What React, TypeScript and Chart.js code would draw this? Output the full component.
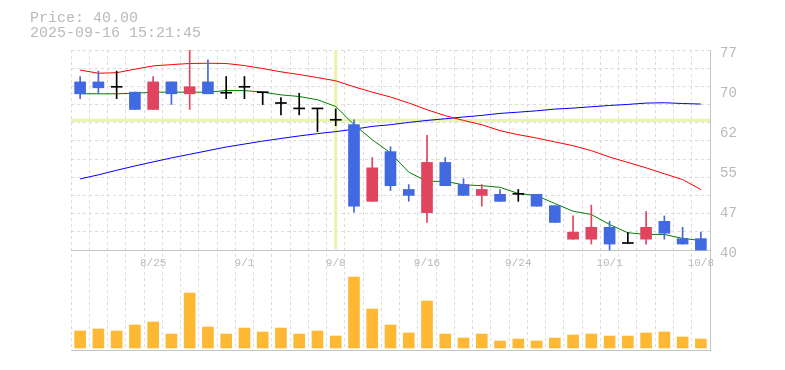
import React, { useEffect, useRef } from 'react';
import { Chart, registerables } from 'chart.js';

Chart.register(...registerables);

// ---- data ----
const dates = [
  '8/19', '8/20', '8/21', '8/22', '8/25', '8/26', '8/27', '8/28', '8/29',
  '9/1', '9/2', '9/3', '9/4', '9/5', '9/8', '9/9', '9/10', '9/11', '9/12',
  '9/16', '9/17', '9/18', '9/19', '9/22', '9/24', '9/25', '9/26',
  '9/29', '9/30', '10/1', '10/2', '10/3', '10/6', '10/7', '10/8',
];
const opens = [
  71.1, 71.1, 70.1, 69.2, 66.0, 71.1, 68.9, 71.1, 69.0,
  70.1, 69.1, 67.1, 66.1, 66.1, 64.0, 63.2, 49.0, 58.2, 51.2,
  46.9, 56.2, 52.1, 50.1, 50.3, 50.3, 50.3, 48.2,
  42.0, 42.0, 44.2, 41.2, 42.0, 45.3, 42.1, 42.1,
];
const highs = [
  72.1, 73.1, 73.1, 69.2, 72.1, 71.1, 78.0, 75.2, 72.1,
  72.1, 69.1, 68.2, 69.0, 66.1, 66.1, 64.1, 57.1, 59.1, 52.1,
  61.2, 57.1, 53.2, 52.1, 51.2, 51.2, 50.3, 48.2,
  46.3, 48.3, 45.3, 43.2, 47.1, 46.3, 44.2, 43.3,
];
const lows = [
  68.0, 68.9, 68.0, 66.0, 66.0, 66.9, 66.0, 68.9, 68.0,
  68.0, 66.9, 65.0, 65.0, 61.9, 63.0, 47.0, 49.0, 51.0, 49.0,
  45.1, 51.9, 50.1, 48.1, 49.0, 49.0, 48.1, 45.1,
  42.0, 41.1, 40.0, 41.2, 41.1, 42.0, 41.1, 40.0,
];
const closes = [
  68.9, 70.0, 70.1, 66.0, 71.1, 68.9, 70.2, 68.9, 69.0,
  70.1, 69.1, 67.1, 66.1, 66.1, 64.0, 48.1, 55.2, 51.9, 50.1,
  56.2, 51.9, 50.1, 51.2, 49.0, 50.3, 48.1, 45.1,
  43.3, 44.2, 41.1, 41.2, 44.2, 43.1, 41.1, 40.0,
];
// volume, thousands of shares
const volumes = [
  17, 19, 17, 23, 26, 14, 55, 21, 14,
  20, 16, 20, 14, 17, 12, 71, 39, 23, 15,
  47, 14, 10, 14, 7, 9, 7, 10,
  13, 14, 12, 12, 15, 16, 11, 9,
];
const maShort = [
  68.9, 68.9, 68.9, 69.0, 69.2, 69.2, 69.2, 69.2, 69.5,
  69.5, 69.2, 68.7, 68.4, 67.8, 66.55, 63.2, 60.4, 57.95, 54.4,
  52.7, 52.7, 52.05, 51.9, 51.6, 50.45, 50.07, 48.6,
  47.18, 46.57, 44.72, 43.19, 42.88, 42.88, 42.14, 41.77,
];
const maMid = [
  73.29, 72.7, 72.8, 73.45, 74.06, 74.3, 74.5, 74.55, 74.5,
  74.12, 73.57, 72.96, 72.46, 71.9, 71.3, 70.2, 69.2, 68.3, 67.2,
  65.95, 64.85, 63.97, 63.18, 62.07, 61.33, 60.72, 60.0,
  59.3, 58.38, 57.2, 56.2, 55.2, 54.1, 53.03, 51.18,
];
const maLong = [
  53.15, 53.9, 54.75, 55.55, 56.3, 57.03, 57.7, 58.38, 59.05,
  59.6, 60.15, 60.63, 61.1, 61.53, 61.9, 62.35, 62.87, 63.18, 63.6,
  63.97, 64.28, 64.6, 64.9, 65.27, 65.5, 65.75, 66.07,
  66.25, 66.5, 66.74, 66.93, 67.18, 67.24, 67.1, 67.0,
];
const priceTicks = [40, 47.4, 54.8, 62.2, 69.6, 77];
const shownDates = ['8/25', '9/1', '9/8', '9/16', '9/24', '10/1', '10/8'];
const headerPrice = 'Price: 40.00';
const headerTime = '2025-09-16 15:21:45';
const crossIndex = 14;
const crossPrice = 64.0;

// ---- styles ----
const UP = '#e0445f';
const DOWN = '#4169e1';
const DOJI = '#000000';
const GRID = '#dcdcdc';
const AXIS = '#c4c4c4';
const LABEL = '#bababa';
const VOL = '#ffb833';
const PRICE_LO = 40;
const PRICE_HI = 77;
const PRICE_MIN = PRICE_HI - (PRICE_HI - PRICE_LO) * 1.5; // price panel = top 2/3
const GRID_DIVS = 11;

const crosshairPlugin = {
  id: 'crosshair',
  beforeDatasetsDraw(chart: any) {
    const { ctx, chartArea, scales } = chart;
    const x = scales.x.getPixelForValue(crossIndex);
    const y = scales.y.getPixelForValue(crossPrice);
    const yBottom = scales.y.getPixelForValue(PRICE_LO);
    ctx.save();
    ctx.strokeStyle = '#e8f4aa';
    ctx.lineWidth = 3;
    ctx.beginPath();
    ctx.moveTo(x, chartArea.top);
    ctx.lineTo(x, yBottom - 1);
    ctx.moveTo(chartArea.left, y);
    ctx.lineTo(chartArea.right, y);
    ctx.stroke();
    ctx.restore();
  },
};

export default function App() {
  const ref = useRef<HTMLCanvasElement | null>(null);

  useEffect(() => {
    if (!ref.current) return;
    const colors = opens.map((o, i) => (closes[i] > o ? UP : closes[i] < o ? DOWN : DOJI));
    const gridValues = Array.from({ length: GRID_DIVS + 1 }, (_, k) => PRICE_LO + (k * (PRICE_HI - PRICE_LO)) / GRID_DIVS);
    const lineDs = (data: number[], color: string) => ({
      type: 'line' as const,
      data,
      borderColor: color,
      borderWidth: 1,
      pointRadius: 0,
      fill: false,
      tension: 0,
      yAxisID: 'y',
      order: 3,
    });
    const chart = new Chart(ref.current, {
      type: 'bar',
      data: {
        labels: dates,
        datasets: [
          lineDs(maMid, '#ff0000') as any,
          lineDs(maLong, '#0000ff') as any,
          lineDs(maShort, '#008000') as any,
          {
            type: 'bar',
            data: lows.map((l, i) => [l, highs[i]]),
            backgroundColor: colors,
            barThickness: 1,
            grouped: false,
            yAxisID: 'y',
            order: 2,
          } as any,
          {
            type: 'bar',
            data: opens.map((o, i) => [o, closes[i]]),
            backgroundColor: colors,
            barThickness: 11,
            minBarLength: 1,
            grouped: false,
            yAxisID: 'y',
            order: 1,
          } as any,
          {
            type: 'bar',
            data: volumes.map((v) => v * 1000),
            backgroundColor: VOL,
            barThickness: 11,
            grouped: false,
            yAxisID: 'yv',
            order: 1,
          } as any,
        ],
      },
      options: {
        responsive: false,
        animation: false,
        events: [],
        layout: { padding: { left: 63, top: 42, right: 17, bottom: 10 } },
        plugins: { legend: { display: false }, tooltip: { enabled: false } },
        scales: {
          x: {
            type: 'category',
            axis: 'x',
            position: { y: PRICE_LO },
            offset: true,
            grid: { offset: true, color: GRID, lineWidth: 1, drawTicks: false },
            border: { display: true, color: AXIS, width: 1, dash: [3, 3] },
            ticks: {
              autoSkip: false,
              maxRotation: 0,
              minRotation: 0,
              padding: 6,
              color: LABEL,
              font: { family: 'Liberation Mono', size: 11 },
              callback: (_v: any, i: number) => (shownDates.includes(dates[i]) ? dates[i] : ''),
            },
            afterFit: (s: any) => {
              s.paddingLeft = 0;
              s.paddingRight = 0;
            },
          },
          x2: {
            type: 'category',
            axis: 'x',
            position: 'bottom',
            offset: true,
            grid: { display: false, drawTicks: false },
            border: { display: true, color: AXIS, width: 1 },
            ticks: { display: false },
            afterFit: (s: any) => {
              s.height = 0;
            },
          },
          y: {
            type: 'linear',
            axis: 'y',
            position: 'right',
            min: PRICE_MIN,
            max: PRICE_HI,
            grid: { display: false, drawTicks: false },
            border: { display: true, color: AXIS, width: 1 },
            ticks: {
              padding: 10,
              labelOffset: 3,
              color: LABEL,
              font: { family: 'Liberation Mono', size: 14 },
              callback: (v: any) => String(Math.round(Number(v))),
            },
            afterBuildTicks: (s: any) => {
              s.ticks = priceTicks.map((value) => ({ value }));
            },
            afterFit: (s: any) => {
              s.width = 50;
              s.paddingTop = 0;
              s.paddingBottom = 0;
            },
          },
          yg: {
            type: 'linear',
            axis: 'y',
            position: 'right',
            min: PRICE_MIN,
            max: PRICE_HI,
            grid: { color: GRID, lineWidth: 1, drawTicks: false },
            border: { display: false, dash: [3, 3] },
            ticks: { display: false },
            afterBuildTicks: (s: any) => {
              s.ticks = gridValues.map((value) => ({ value }));
            },
            afterFit: (s: any) => {
              s.width = 0;
              s.paddingTop = 0;
              s.paddingBottom = 0;
            },
          },
          yv: {
            type: 'linear',
            axis: 'y',
            display: false,
            min: -2000,
            max: 298000,
          },
        } as any,
      },
      plugins: [crosshairPlugin],
    });
    return () => chart.destroy();
  }, []);

  const headStyle: React.CSSProperties = {
    position: 'absolute',
    left: 22,
    fontFamily: '"Liberation Mono", monospace',
    fontSize: 15,
    lineHeight: '15px',
    color: LABEL,
    whiteSpace: 'pre',
  };

  return (
    <div style={{ position: 'relative', width: 769, height: 352 }}>
      <canvas ref={ref} width={769} height={352} style={{ display: 'block' }} />
      <div style={{ ...headStyle, top: 3 }}>{headerPrice}</div>
      <div style={{ ...headStyle, top: 18 }}>{headerTime}</div>
    </div>
  );
}
